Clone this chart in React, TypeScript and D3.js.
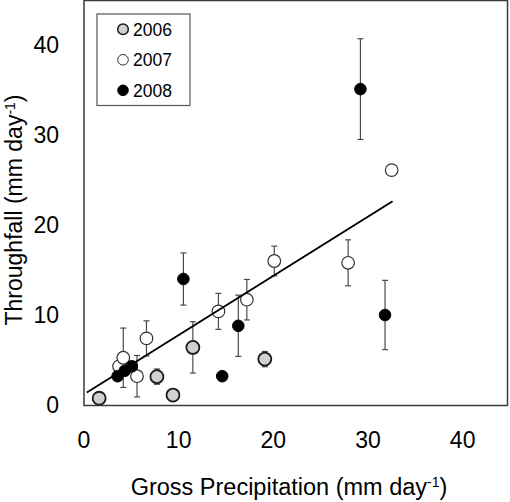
import React from "react";
import * as d3 from "d3";

const x2006 = [1.6, 7.7, 9.4, 11.5, 19.1];
const y2006 = [0.75, 3.15, 1.1, 6.4, 5.1];
const e2006 = [0, 0.85, 0, 2.85, 0.85];

const x2007 = [3.7, 4.15, 5.6, 6.6, 14.2, 17.2, 20.1, 27.9, 32.5];
const y2007 = [4.3, 5.25, 3.2, 7.4, 10.4, 11.7, 16.0, 15.8, 26.1];
const e2007 = [0, 3.3, 2.3, 1.95, 2.0, 2.25, 1.65, 2.55, 0];

const x2008 = [3.55, 4.3, 5.05, 10.5, 14.6, 16.3, 29.2, 31.8];
const y2008 = [3.2, 3.8, 4.3, 14.0, 3.2, 8.8, 35.1, 10.0];
const e2008 = [0, 0, 0, 2.9, 0, 3.4, 5.6, 3.85];

const fitSlope = 0.658;
const fitIntercept = 1.19;
const fitRange = [0.3, 32.6];

const xTicks = [0, 10, 20, 30, 40];
const yTicks = [0, 10, 20, 30, 40];
const legendYears = ["2006", "2007", "2008"];

const W = 510, H = 502;
const L = 84, R = 510, T = 0, B = 405;

const seriesStyle = [
  { fill: "#d0d0d0", stroke: "#1a1a1a", sw: 1.8, r: 6.5 },
  { fill: "#ffffff", stroke: "#333333", sw: 1.2, r: 6.3 },
  { fill: "#000000", stroke: "#000000", sw: 1, r: 5.8 },
];

export default function App() {
  const x = d3.scaleLinear().domain([0, 45]).range([L, R]);
  const y = d3.scaleLinear().domain([0, 45]).range([B, T]);
  const font = "'Liberation Sans', Arial, sans-serif";

  const series = [
    { xs: x2006, ys: y2006, es: e2006 },
    { xs: x2007, ys: y2007, es: e2007 },
    { xs: x2008, ys: y2008, es: e2008 },
  ];

  const line = d3.line<number>()
    .x((d) => x(d))
    .y((d) => y(fitIntercept + fitSlope * d));

  return (
    <svg width={W} height={H} style={{ position: "absolute", left: 0, top: 0, background: "#fff" }} fontFamily={font}>
      <rect x={0} y={0} width={W} height={H} fill="#fff" />
      {series.map((s, si) =>
        s.xs.map((xv, i) =>
          s.es[i] > 0 ? (
            <g key={`e${si}-${i}`} stroke="#4a4a4a" strokeWidth={1.2}>
              <line x1={x(xv)} x2={x(xv)} y1={y(s.ys[i] - s.es[i])} y2={y(s.ys[i] + s.es[i])} />
              <line x1={x(xv) - 3} x2={x(xv) + 3} y1={y(s.ys[i] - s.es[i])} y2={y(s.ys[i] - s.es[i])} />
              <line x1={x(xv) - 3} x2={x(xv) + 3} y1={y(s.ys[i] + s.es[i])} y2={y(s.ys[i] + s.es[i])} />
            </g>
          ) : null
        )
      )}
      {series.map((s, si) =>
        s.xs.map((xv, i) => (
          <circle
            key={`p${si}-${i}`}
            cx={x(xv)}
            cy={y(s.ys[i])}
            r={seriesStyle[si].r}
            fill={seriesStyle[si].fill}
            stroke={seriesStyle[si].stroke}
            strokeWidth={seriesStyle[si].sw}
          />
        ))
      )}
      <path d={line(fitRange) || ""} stroke="#000" strokeWidth={2} fill="none" />
      <rect x={L} y={T + 0.5} width={R - L - 2.5} height={B - T} fill="none" stroke="#3a3a3a" strokeWidth={1.5} />
      {xTicks.map((t) => (
        <text key={`xt${t}`} x={x(t)} y={448} textAnchor="middle" fontSize={23} fill="#000">
          {t}
        </text>
      ))}
      {yTicks.map((t) => (
        <text key={`yt${t}`} x={59} y={y(t) + 8.2} textAnchor="end" fontSize={23} fill="#000">
          {t}
        </text>
      ))}
      <text x={289} y={494.5} textAnchor="middle" fontSize={23.5} fill="#000">
        Gross Precipitation (mm day<tspan dy={-8} fontSize={14}>-1</tspan><tspan dy={8}>)</tspan>
      </text>
      <text transform={`translate(22,210) rotate(-90)`} textAnchor="middle" fontSize={23} fill="#000">
        Throughfall (mm day<tspan dy={-7} fontSize={14}>-1</tspan><tspan dy={7}>)</tspan>
      </text>
      <rect x={97} y={14} width={93} height={91.5} fill="#fff" stroke="#555" strokeWidth={1.2} />
      {legendYears.map((yr, i) => (
        <g key={yr}>
          <circle
            cx={123}
            cy={29.3 + i * 30.5}
            r={5.3}
            fill={seriesStyle[i].fill}
            stroke={seriesStyle[i].stroke}
            strokeWidth={i === 0 ? 1.5 : 1}
          />
          <text x={133} y={35.5 + i * 30.5} fontSize={17.5} fill="#000">
            {yr}
          </text>
        </g>
      ))}
    </svg>
  );
}
